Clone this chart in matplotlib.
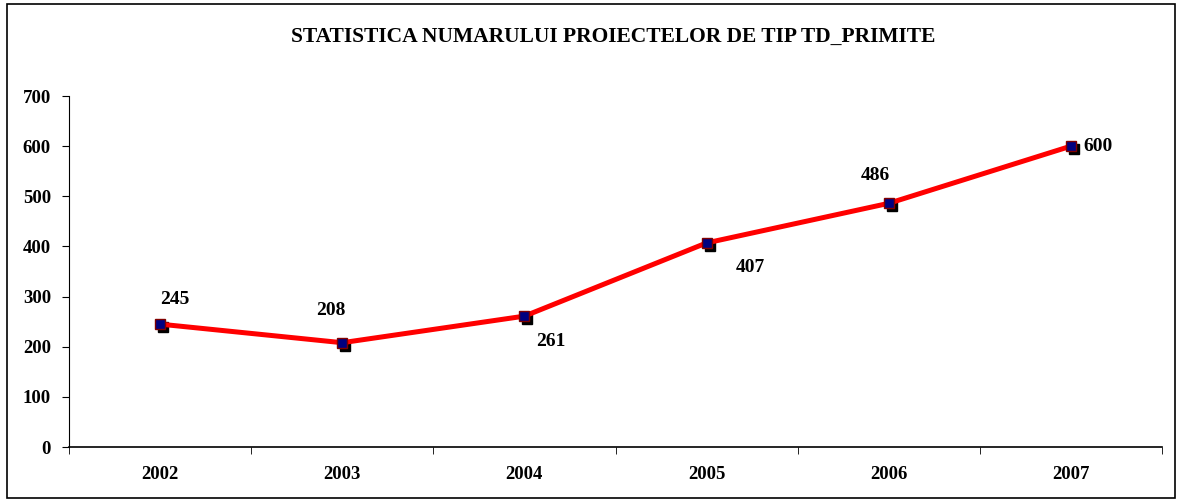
import numpy as np
import matplotlib.pyplot as plt
import matplotlib.transforms as mtransforms
from matplotlib.patches import Rectangle

years = ["2002", "2003", "2004", "2005", "2006", "2007"]
values = [245, 208, 261, 407, 486, 600]
# label offsets in pixels (dx, dy)
label_offsets = [(15, 25), (-11, 32), (26, -25), (44, -25), (-13, 28), (27, 0)]

plt.rcParams['font.family'] = ['Liberation Serif', 'DejaVu Serif']
plt.rcParams['font.weight'] = 'bold'

fig = plt.figure(figsize=(11.81, 5.01), dpi=100)
ax = fig.add_axes([69 / 1181, 54 / 501, 1093 / 1181, 351 / 501])

x = np.arange(len(years))

# shadow markers
shadow = mtransforms.offset_copy(ax.transData, fig=fig, x=3, y=-3, units='dots')
ax.plot(x, values, linestyle='none', marker='s', markersize=7,
        color='black', transform=shadow, zorder=2)
ax.plot(x, values, color='#ff0000', linewidth=3.6, zorder=3)
ax.plot(x, values, linestyle='none', marker='s', markersize=7,
        markerfacecolor='#000080', markeredgecolor='#800000',
        markeredgewidth=1, zorder=4)

for xi, v, (dx, dy) in zip(x, values, label_offsets):
    ax.annotate(str(v), (xi, v), xytext=(dx, dy), textcoords='offset pixels',
                ha='center', va='center', fontsize=14, fontweight='bold')

ax.set_xlim(-0.5, len(years) - 0.5)
ax.set_ylim(0, 700)
ax.set_yticks(range(0, 701, 100))
ax.set_xticks(x)
ax.set_xticklabels(years)
ax.set_xticks(np.arange(-0.5, len(years), 1), minor=True)
ax.tick_params(axis='x', which='major', length=0, pad=14, labelsize=13.5)
ax.tick_params(axis='x', which='minor', length=5, direction='out')
ax.tick_params(axis='y', length=5, direction='out', pad=8, labelsize=13.5)
for lab in ax.get_xticklabels() + ax.get_yticklabels():
    lab.set_fontweight('bold')

ax.spines['top'].set_visible(False)
ax.spines['right'].set_visible(False)
ax.spines['left'].set_linewidth(0.8)
ax.spines['bottom'].set_linewidth(1.2)

fig.text(613 / 1181, 1 - 37 / 501, "STATISTICA NUMARULUI PROIECTELOR DE TIP TD_PRIMITE",
         ha='center', va='center', fontsize=15.5, fontweight='bold')

fig.patches.append(Rectangle((7 / 1181, 3 / 501), 1168 / 1181, 494 / 501,
                             transform=fig.transFigure, fill=False,
                             edgecolor='black', linewidth=1.2))

fig.savefig("out.png", dpi=100)
